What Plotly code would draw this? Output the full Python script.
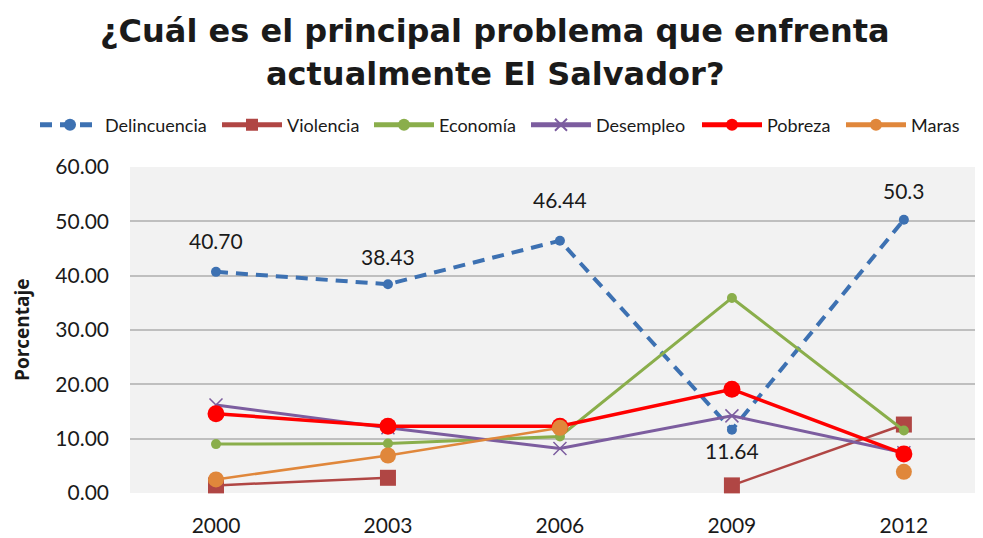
import plotly.graph_objects as go

years = ["2000", "2003", "2006", "2009", "2012"]
delincuencia = [40.70, 38.43, 46.44, 11.64, 50.3]
delincuencia_labels = ["40.70", "38.43", "46.44", "11.64", "50.3"]
violencia = [1.4, 2.8, None, 1.4, 12.6]
economia = [9.0, 9.1, 10.4, 35.9, 11.5]
desempleo = [16.2, 12.0, 8.2, 14.2, 7.4]
pobreza = [14.6, 12.3, 12.3, 19.1, 7.2]
maras = [2.5, 6.9, 12.0, None, 3.9]
y_ticks = [0, 10, 20, 30, 40, 50, 60]
y_tick_labels = ["0.00", "10.00", "20.00", "30.00", "40.00", "50.00", "60.00"]
title_lines = ["¿Cuál es el principal problema que enfrenta", "actualmente El Salvador?"]

FONT = "Lato, 'Open Sans', sans-serif"
TFONT = "'DejaVu Sans', 'Open Sans', sans-serif"
OFF = 8  # page body margin
W, H = 983 - OFF, 538 - OFF
L, R, T, B = 130 - OFF, 0, 167 - OFF, 538 - 493
pw, ph = W - L - R, H - T - B

def px_x(p):
    return (p - OFF - L) / pw

def px_y(p):
    return (H - B - (p - OFF)) / ph

series = [
    ("Delincuencia", delincuencia, "#3d71b2", dict(width=4, dash="12px,8px"), dict(symbol="circle", size=10)),
    ("Violencia", violencia, "#b04644", dict(width=2.5), dict(symbol="square", size=16)),
    ("Economía", economia, "#8aae4b", dict(width=3), dict(symbol="circle", size=10)),
    ("Desempleo", desempleo, "#7c5d9f", dict(width=3), dict(symbol="x-thin", size=13, line=dict(width=1.5, color="#7c5d9f"))),
    ("Pobreza", pobreza, "#ff0000", dict(width=3.5), dict(symbol="circle", size=17)),
    ("Maras", maras, "#e0873b", dict(width=2.5), dict(symbol="circle", size=16)),
]
legend_line_start = [39, 221, 373, 530, 701, 845]

fig = go.Figure()
for i, (name, vals, color, line, marker) in enumerate(series):
    line = dict(line, color=color)
    marker = dict(marker, color=color)
    fig.add_trace(go.Scatter(
        x=list(range(len(years))), y=vals, name=name, mode="lines+markers",
        line=line, marker=marker, connectgaps=False, cliponaxis=False,
        legend="legend" if i == 0 else f"legend{i+1}", showlegend=True,
    ))

layout_legends = {}
for i, xs in enumerate(legend_line_start):
    key = "legend" if i == 0 else f"legend{i+1}"
    layout_legends[key] = dict(
        x=px_x(xs - 4), y=px_y(125), xanchor="left", yanchor="middle",
        orientation="h", bgcolor="rgba(0,0,0,0)", itemwidth=60,
        font=dict(family=FONT, size=18, color="#1a1a1a"),
        itemsizing="constant",
    )

shifts = [31, 28, 41, -21, 29]
annotations = []
for xi, (v, lab, s) in enumerate(zip(delincuencia, delincuencia_labels, shifts)):
    annotations.append(dict(x=xi, y=v, xref="x", yref="y", text=lab, showarrow=False,
                            yshift=s, font=dict(family=FONT, size=21, color="#1a1a1a")))
annotations.append(dict(x=px_x(22), y=px_y(330), xref="paper", yref="paper", text="<b>Porcentaje</b>",
                        textangle=-90, showarrow=False, xanchor="center", yanchor="middle",
                        font=dict(family="'Open Sans', sans-serif", size=19, color="#1a1a1a")))
for ln, yc in zip(title_lines, [31, 74]):
    annotations.append(dict(x=px_x(495), y=px_y(yc), xref="paper", yref="paper",
                            text=f"<b>{ln}</b>", showarrow=False, xanchor="center", yanchor="middle",
                            font=dict(family=TFONT, size=32, color="#1a1a1a")))

fig.update_layout(
    width=W, height=H, showlegend=True,
    margin=dict(l=L, r=R, t=T, b=B, autoexpand=False),
    paper_bgcolor="white", plot_bgcolor="#f2f2f2",
    annotations=annotations,
    **layout_legends,
)
fig.update_xaxes(tickvals=list(range(len(years))), ticktext=years, range=[-0.5, 4.46],
                 showgrid=False, zeroline=False, showline=False, ticks="", ticklabelstandoff=18,
                 tickfont=dict(family=FONT, size=21, color="#1a1a1a"))
fig.update_yaxes(range=[0, 60], tickvals=y_ticks, ticktext=y_tick_labels,
                 showgrid=True, gridcolor="#bfbfbf", gridwidth=1.5, zeroline=False,
                 showline=False, ticks="", ticklabelstandoff=20,
                 tickfont=dict(family=FONT, size=21, color="#1a1a1a"))

fig.write_html("out.html")
